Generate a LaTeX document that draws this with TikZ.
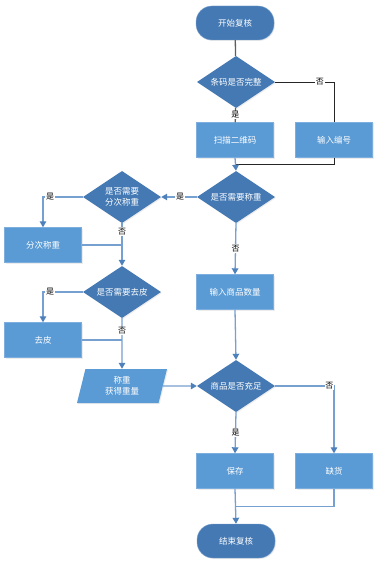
\documentclass[tikz,border=0pt]{standalone}
\usepackage{fontspec}
\setmainfont{Noto Sans CJK SC}
\usepackage{tikz}
\usetikzlibrary{positioning,calc}
\usetikzlibrary{arrows.meta,shapes.geometric,shadows}
\definecolor{BoxBlue}{RGB}{91,155,213}
\definecolor{DeepBlue}{RGB}{68,121,180}
\definecolor{LineBlue}{RGB}{118,160,208}
\definecolor{TipBlue}{RGB}{78,128,188}
\definecolor{LineGray}{RGB}{95,95,95}
\tikzset{
  base/.style={text=white,font=\fontsize{8.5}{11}\selectfont,align=center,
    drop shadow={opacity=0.15,shadow xshift=1pt,shadow yshift=-1pt}},
  term/.style={base,rectangle,fill=DeepBlue,draw=DeepBlue!70!white,rounded corners=16pt,
    minimum width=78pt,minimum height=34pt},
  proc/.style={base,rectangle,fill=BoxBlue,draw=BoxBlue!80!white,
    minimum width=77pt,minimum height=35pt},
  dec/.style={base,diamond,aspect=1.5,fill=DeepBlue,inner sep=0pt,
    minimum width=78pt,minimum height=52pt},
  inout/.style={base,trapezium,trapezium left angle=68,trapezium right angle=112,
    trapezium stretches body,fill=BoxBlue,minimum width=90pt,minimum height=34pt,inner sep=1pt},
  edge/.style={draw=LineBlue,line width=1.3pt},
  flow/.style={edge,-{Triangle[length=6pt,width=6.5pt,color=TipBlue]}},
  grayedge/.style={draw=LineGray,line width=1.3pt},
  darkedge/.style={draw=black!85,line width=0.9pt},
  lbl/.style={fill=white,inner sep=0.8pt,text=black,font=\fontsize{8}{9}\selectfont},
}
\begin{document}
\begin{tikzpicture}[x=1pt,y=-1pt]
\useasboundingbox (0,0) rectangle (378,567);
% nodes
\node[term] (start) at (235,23) {开始复核};
\node[dec] (d1) at (236,82) {条码是否完整};
\node[proc] (scan) at (235,140) {扫描二维码};
\node[proc] (code) at (334,140) {输入编号};
\node[dec] (d2) at (236,197) {是否需要称重};
\node[dec] (d3) at (122,197) {是否需要\\分次称重};
\node[proc] (split) at (43,245) {分次称重};
\node[dec] (d4) at (122,292) {是否需要去皮};
\node[proc] (tare) at (43,340) {去皮};
\node[inout] (weigh) at (122,386) {称重\\获得重量};
\node[proc] (qty) at (235,292) {输入商品数量};
\node[dec] (d5) at (236,386) {商品是否充足};
\node[proc] (save) at (235,471) {保存};
\node[proc] (short) at (334,471) {缺货};
\node[term] (stop) at (236,541) {结束复核};
\coordinate (m1) at ($(scan.south)!0.5!(d2.north)$);
\coordinate (m2) at ($(save.south)!0.5!(stop.north)$);
% connectors
\draw[grayedge] (start) -- (d1);
\draw[grayedge] (d1) -- node[lbl] (l1) {是} (scan);
\draw[darkedge] (d1.east) -| node[lbl,pos=0.38] (l2) {否} (code.north);
\draw[darkedge] (code.south) |- (m1);
\draw[flow] (scan.south) -- (d2.north);
\draw[flow] (d2.west) -- node[lbl,pos=0.47] (l3) {是} (d3.east);
\draw[flow] (d3.west) -| node[lbl,pos=0.41] (l4) {是} (split.north);
\draw[flow] (d3.south) -- node[lbl,pos=0.2] (l5) {否} (d4.north);
\draw[edge] (split.east) -- (split.east -| d3.south);
\draw[flow] (d4.west) -| node[lbl,pos=0.41] (l6) {是} (tare.north);
\draw[flow] (d4.south) -- node[lbl,pos=0.25] (l7) {否} (weigh.north);
\draw[edge] (tare.east) -- (tare.east -| d4.south);
\draw[flow] (weigh.east) -- (d5.west);
\draw[flow] (d2.south) -- node[lbl] (l8) {否} (qty.north);
\draw[flow] (qty.south) -- (d5.north);
\draw[flow] (d5.east) -| node[lbl,pos=0.46] (l9) {否} (short.north);
\draw[flow] (d5.south) -- node[lbl] (l10) {是} (save.north);
\draw[flow] (save.south) -- (stop.north);
\draw[edge] (short.south) |- (m2);
\end{tikzpicture}
\end{document}
